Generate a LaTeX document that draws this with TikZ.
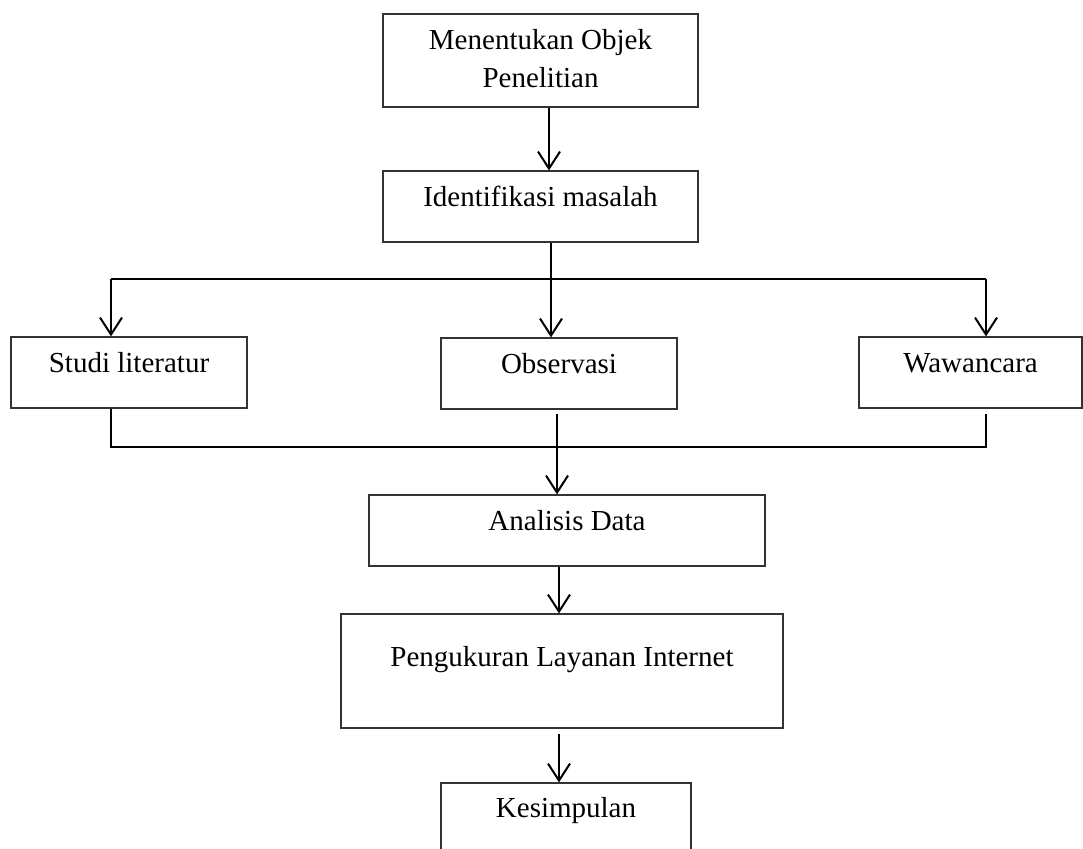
\documentclass[tikz,border=0pt]{standalone}
\usepackage{fontspec}
\setmainfont{Liberation Serif}
\usetikzlibrary{arrows.meta}
\begin{document}
\begin{tikzpicture}[x=1pt,y=-1pt,
  box/.style={draw=black!80, line width=1.2pt, inner sep=0pt},
  txt/.style={font=\fontsize{29pt}{38pt}\selectfont, inner sep=0pt, align=center},
  conn/.style={line width=2pt, black},
  arr/.style={conn, -{Straight Barb[length=17pt,width=22pt,line width=2pt]}}]
\useasboundingbox (0,0) rectangle (1083,848);
% boxes
\node[box, minimum width=315pt, minimum height=93pt] (b1) at (540.5,60.5) {};
\node[box, minimum width=315pt, minimum height=71pt] (b2) at (540.5,206.5) {};
\node[box, minimum width=236pt, minimum height=71pt] (s) at (129,372.5) {};
\node[box, minimum width=236pt, minimum height=71pt] (o) at (559,373.5) {};
\node[box, minimum width=223pt, minimum height=71pt] (wc) at (970.5,372.5) {};
\node[box, minimum width=396pt, minimum height=71pt] (a) at (567,530.5) {};
\node[box, minimum width=442pt, minimum height=114pt] (p) at (562,671) {};
\node[box, minimum width=250pt, minimum height=74pt] (k) at (566,820) {};
% texts
\node[txt, anchor=north] (t1) at ([yshift=-16pt]b1.north) {Menentukan Objek\\Penelitian};
\node[txt, anchor=base] (t2) at ([yshift=-36pt]b2.north) {Identifikasi masalah};
\node[txt, anchor=base] (ts) at ([yshift=-36pt]s.north) {Studi literatur};
\node[txt, anchor=base] (to) at ([yshift=-36pt]o.north) {Observasi};
\node[txt, anchor=base] (tw) at ([yshift=-36pt]wc.north) {Wawancara};
\node[txt, anchor=base] (ta) at ([yshift=-36pt]a.north) {Analisis Data};
\node[txt, anchor=base] (tp) at ([yshift=-53pt]p.north) {Pengukuran Layanan Internet};
\node[txt, anchor=base] (tk) at ([yshift=-35pt]k.north) {Kesimpulan};
% helper coordinates
\coordinate (jl) at (111,279);
\coordinate (jr) at (986,279);
\coordinate (kl) at (111,447);
\coordinate (kr) at (986,447);
\coordinate (x1) at (549,0);
\coordinate (x2) at (551,0);
\coordinate (x3) at (557,0);
\coordinate (x4) at (559,0);
% connectors
\draw[arr] (b1.south -| x1) -- (b2.north -| x1);
\draw[arr] (b2.south -| x2) -- (o.north -| x2);
\draw[conn] (jl) -- (jr);
\draw[arr] (jl) -- (s.north -| jl);
\draw[arr] (jr) -- (wc.north -| jr);
\draw[conn] (s.south -| kl) -- (kl) -- (kr) -- ([yshift=-5pt]wc.south -| kr);
\draw[arr] ([yshift=-4pt]o.south -| x3) -- (a.north -| x3);
\draw[arr] (a.south -| x4) -- (p.north -| x4);
\draw[arr] ([yshift=-5pt]p.south -| x4) -- (k.north -| x4);
\end{tikzpicture}
\end{document}
